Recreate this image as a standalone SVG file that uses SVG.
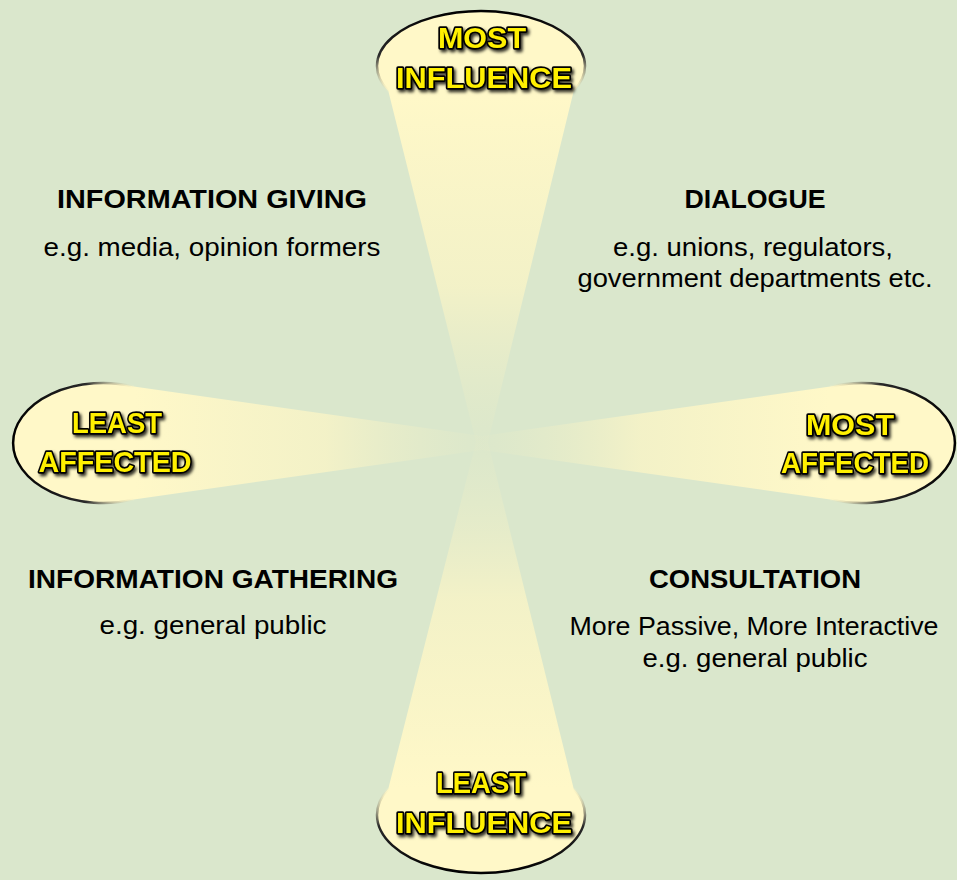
<svg xmlns="http://www.w3.org/2000/svg" width="957" height="880" viewBox="0 0 957 880">
<defs>
  <style>
    .big{font-family:"Liberation Sans",Arial,sans-serif;font-weight:bold;font-size:30px;fill:#fff000;stroke:#000;stroke-width:3.4px;stroke-linejoin:round;paint-order:stroke;text-anchor:middle;filter:url(#sh)}
    .hd{font-family:"Liberation Sans",Arial,sans-serif;font-weight:bold;font-size:25px;fill:#000;text-anchor:middle}
    .bd{font-family:"Liberation Sans",Arial,sans-serif;font-size:25px;fill:#000;text-anchor:middle}
    .rim{fill:none;stroke-width:2.5}
  </style>
  <filter id="sh" x="-10%" y="-20%" width="130%" height="150%">
    <feDropShadow dx="2" dy="2.5" stdDeviation="1.5" flood-color="#000" flood-opacity="0.8"/>
  </filter>
  <linearGradient id="gTop" gradientUnits="userSpaceOnUse" x1="0" y1="95" x2="0" y2="442">
    <stop offset="0" stop-color="#fff8c8" stop-opacity="1"/>
    <stop offset="0.55" stop-color="#fbf5c6" stop-opacity="0.75"/>
    <stop offset="1" stop-color="#e4eac8" stop-opacity="0.2"/>
  </linearGradient>
  <linearGradient id="gBot" gradientUnits="userSpaceOnUse" x1="0" y1="788" x2="0" y2="442">
    <stop offset="0" stop-color="#fff8c8" stop-opacity="1"/>
    <stop offset="0.55" stop-color="#fbf5c6" stop-opacity="0.75"/>
    <stop offset="1" stop-color="#e4eac8" stop-opacity="0.2"/>
  </linearGradient>
  <linearGradient id="gLeft" gradientUnits="userSpaceOnUse" x1="135" y1="0" x2="482" y2="0">
    <stop offset="0" stop-color="#fff8c8" stop-opacity="1"/>
    <stop offset="0.55" stop-color="#fbf5c6" stop-opacity="0.75"/>
    <stop offset="1" stop-color="#e4eac8" stop-opacity="0.2"/>
  </linearGradient>
  <linearGradient id="gRight" gradientUnits="userSpaceOnUse" x1="830" y1="0" x2="482" y2="0">
    <stop offset="0" stop-color="#fff8c8" stop-opacity="1"/>
    <stop offset="0.55" stop-color="#fbf5c6" stop-opacity="0.75"/>
    <stop offset="1" stop-color="#e4eac8" stop-opacity="0.2"/>
  </linearGradient>
  <linearGradient id="sTop" gradientUnits="userSpaceOnUse" x1="0" y1="11" x2="0" y2="92">
    <stop offset="0" stop-color="#000"/>
    <stop offset="0.55" stop-color="#2a2a2a"/>
    <stop offset="1" stop-color="#fff8c8" stop-opacity="0.2"/>
  </linearGradient>
  <linearGradient id="sBot" gradientUnits="userSpaceOnUse" x1="0" y1="873" x2="0" y2="788">
    <stop offset="0" stop-color="#000"/>
    <stop offset="0.55" stop-color="#2a2a2a"/>
    <stop offset="1" stop-color="#fff8c8" stop-opacity="0.2"/>
  </linearGradient>
  <linearGradient id="sLeft" gradientUnits="userSpaceOnUse" x1="13" y1="0" x2="135" y2="0">
    <stop offset="0" stop-color="#000"/>
    <stop offset="0.6" stop-color="#2a2a2a"/>
    <stop offset="1" stop-color="#fff8c8" stop-opacity="0.2"/>
  </linearGradient>
  <linearGradient id="sRight" gradientUnits="userSpaceOnUse" x1="955" y1="0" x2="830" y2="0">
    <stop offset="0" stop-color="#000"/>
    <stop offset="0.6" stop-color="#2a2a2a"/>
    <stop offset="1" stop-color="#fff8c8" stop-opacity="0.2"/>
  </linearGradient>
</defs>
<rect x="0" y="0" width="957" height="880" fill="#dae7cc"/>

<g id="connectors"></g>

<g id="node-most-influence">
  <path d="M388.3,91 A104,55 0 1 1 573.7,91 L488,442 L476,442 Z" fill="url(#gTop)"/>
  <path class="rim" d="M388.3,91 A104,55 0 1 1 573.7,91" stroke="url(#sTop)"/>
  <text class="big" x="482" y="48" textLength="88" lengthAdjust="spacingAndGlyphs">MOST</text>
  <text class="big" x="484" y="88" textLength="176" lengthAdjust="spacingAndGlyphs">INFLUENCE</text>
</g>

<g id="node-least-influence">
  <path d="M388.3,788.7 A104,58 0 1 0 573.7,788.7 L488,442 L476,442 Z" fill="url(#gBot)"/>
  <path class="rim" d="M388.3,788.7 A104,58 0 1 0 573.7,788.7" stroke="url(#sBot)"/>
  <text class="big" x="481" y="793" textLength="90" lengthAdjust="spacingAndGlyphs">LEAST</text>
  <text class="big" x="484" y="833" textLength="176" lengthAdjust="spacingAndGlyphs">INFLUENCE</text>
</g>

<g id="node-least-affected">
  <path d="M133.8,386.6 A90,60 0 1 0 133.8,499.4 L482,450 L482,436 Z" fill="url(#gLeft)"/>
  <path class="rim" d="M133.8,386.6 A90,60 0 1 0 133.8,499.4" stroke="url(#sLeft)"/>
  <text class="big" x="117" y="433" textLength="90" lengthAdjust="spacingAndGlyphs">LEAST</text>
  <text class="big" x="115" y="472" textLength="153" lengthAdjust="spacingAndGlyphs">AFFECTED</text>
</g>

<g id="node-most-affected">
  <path d="M830.2,386.6 A93,60 0 1 1 830.2,499.4 L482,450 L482,436 Z" fill="url(#gRight)"/>
  <path class="rim" d="M830.2,386.6 A93,60 0 1 1 830.2,499.4" stroke="url(#sRight)"/>
  <text class="big" x="850" y="435" textLength="88" lengthAdjust="spacingAndGlyphs">MOST</text>
  <text class="big" x="855" y="473" textLength="148" lengthAdjust="spacingAndGlyphs">AFFECTED</text>
</g>

<g id="node-information-giving">
  <text class="hd" x="212" y="208" textLength="310" lengthAdjust="spacingAndGlyphs">INFORMATION GIVING</text>
  <text class="bd" x="212" y="256" textLength="337" lengthAdjust="spacingAndGlyphs">e.g. media, opinion formers</text>
</g>

<g id="node-dialogue">
  <text class="hd" x="755" y="208" textLength="141" lengthAdjust="spacingAndGlyphs">DIALOGUE</text>
  <text class="bd" x="753" y="256" textLength="280" lengthAdjust="spacingAndGlyphs">e.g. unions, regulators,</text>
  <text class="bd" x="755" y="287" textLength="355" lengthAdjust="spacingAndGlyphs">government departments etc.</text>
</g>

<g id="node-information-gathering">
  <text class="hd" x="213" y="588" textLength="370" lengthAdjust="spacingAndGlyphs">INFORMATION GATHERING</text>
  <text class="bd" x="213" y="634" textLength="227" lengthAdjust="spacingAndGlyphs">e.g. general public</text>
</g>

<g id="node-consultation">
  <text class="hd" x="755" y="588" textLength="212" lengthAdjust="spacingAndGlyphs">CONSULTATION</text>
  <text class="bd" x="754" y="635" textLength="369" lengthAdjust="spacingAndGlyphs">More Passive, More Interactive</text>
  <text class="bd" x="755" y="667" textLength="225" lengthAdjust="spacingAndGlyphs">e.g. general public</text>
</g>
</svg>
